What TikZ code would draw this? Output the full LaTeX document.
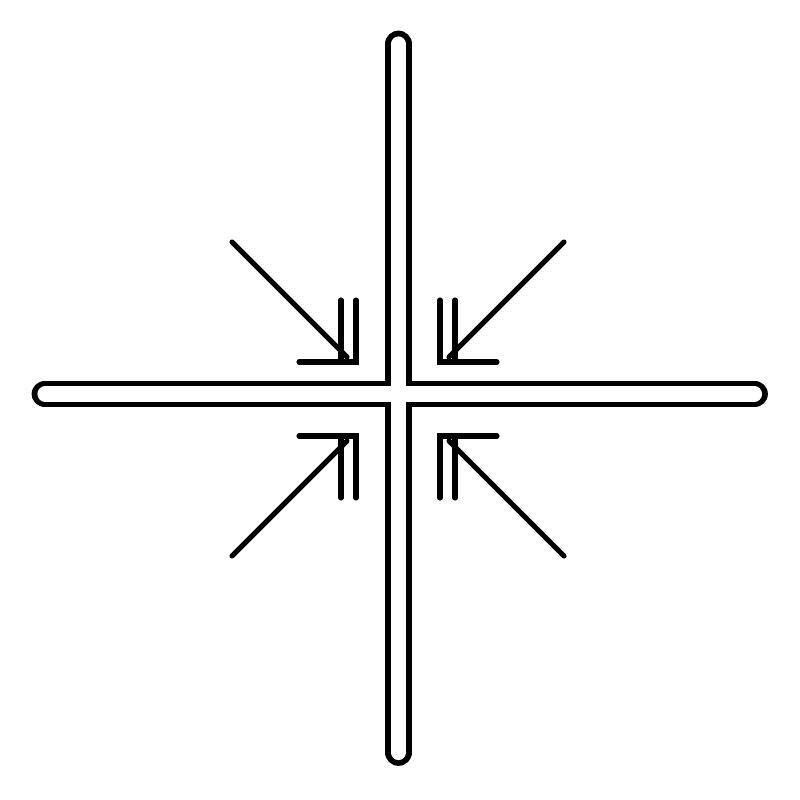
\documentclass[tikz,border=0pt]{standalone}
\usepackage{tikz}

\tikzset{
    bar outer/.style = {line width = 7.6pt, line cap = round, black},
    bar inner/.style = {line width = 4.3pt, line cap = round, white},
    arrowline/.style = {line width = 1.45pt, line cap = round, black}
}

\begin{document}
\begin{tikzpicture}[x = 0.01cm, y = -0.01cm]
    \useasboundingbox (0,0) rectangle (800,800);
    \def \cx {398.5} % центр креста
    \def \cy {394}
    \coordinate (top) at (\cx, 44);
    \coordinate (bottom) at (\cx, 752.5);
    \coordinate (left) at (45, \cy);
    \coordinate (right) at (754.5, \cy);
    % сначала толстые чёрные полосы, потом белые поверх - получается контур
    \draw [bar outer] (top) -- (bottom);
    \draw [bar outer] (left) -- (right);
    \draw [bar inner] (top) -- (bottom);
    \draw [bar inner] (left) -- (right);
    \foreach \sx/\sy in {-1/-1, 1/-1, -1/1, 1/1} { % четыре стрелки к центру
        \begin{scope}[shift = {(398,399)}, xscale = \sx, yscale = \sy]
            \coordinate (tail) at (166,157);
            \coordinate (tip) at (51,42);
            \coordinate (corner) at (42,37);
            \draw [arrowline] (tail) -- (tip);
            \draw [arrowline] (99,37) -- (corner) -- (42,99);
            \draw [arrowline] (57,40) -- (57,99); % вторая черта
        \end{scope}
    }
\end{tikzpicture}
\end{document}
